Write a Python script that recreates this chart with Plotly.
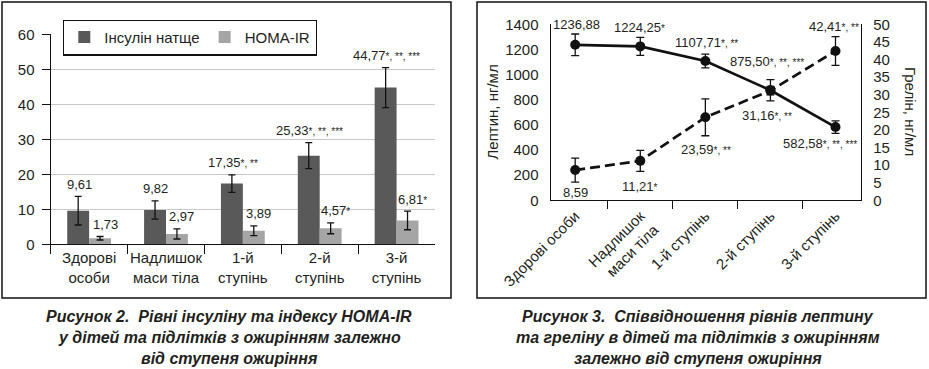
import plotly.graph_objects as go

W, H = 929, 369

# ---------------- data ----------------
left_categories = ["Здорові<br>особи", "Надлишок<br>маси тіла", "1-й<br>ступінь", "2-й<br>ступінь", "3-й<br>ступінь"]
right_categories = ["Здорові особи", "Надлишок<br>маси тіла", "1-й ступінь", "2-й ступінь", "3-й ступінь"]

insulin = [9.61, 9.82, 17.35, 25.33, 44.77]
insulin_err = [4.1, 2.6, 2.5, 3.7, 5.7]
insulin_text = ["9,61", "9,82", "17,35", "25,33", "44,77"]
insulin_marks = ["", "", "*, **", "*, **, ***", "*, **, ***"]

homa = [1.73, 2.97, 3.89, 4.57, 6.81]
homa_err = [0.5, 1.45, 1.4, 1.55, 2.65]
homa_text = ["1,73", "2,97", "3,89", "4,57", "6,81"]
homa_marks = ["", "", "", "*", "*"]

leptin = [1236.88, 1224.25, 1107.71, 875.50, 582.58]
leptin_err = [86, 72, 55, 85, 50]
leptin_text = ["1236,88", "1224,25", "1107,71", "875,50", "582,58"]
leptin_marks = ["", "*", "*, **", "*, **, ***", "*, **, ***"]

ghrelin = [8.59, 11.21, 23.59, 31.16, 42.41]
ghrelin_err = [3.4, 3.0, 5.25, 1.2, 4.1]
ghrelin_text = ["8,59", "11,21", "23,59", "31,16", "42,41"]
ghrelin_marks = ["", "*", "*, **", "*, **", "*, **"]

caption_left = ["Рисунок 2.\u00a0 Рівні інсуліну та індексу HOMA-IR",
                "у дітей та підлітків з ожирінням залежно",
                "від ступеня ожиріння"]
caption_right = ["Рисунок 3.\u00a0 Співвідношення рівнів лептину",
                 "та греліну в дітей та підлітків з ожирінням",
                 "залежно від ступеня ожиріння"]

# ---------------- style ----------------
FONT = "Liberation Sans, Arial, Helvetica, sans-serif"
TXT = "#231f20"
DARK = "#595959"
LIGHT = "#a5a5a5"
GRID = "#c8c8c8"


def px(x):
    return x / W


def py(y):
    return 1 - y / H


def lab(t, m):
    return t + (f"<span style='font-size:10px'>{m}</span>" if m else "")


fig = go.Figure()

# ---- left: bars ----
fig.add_trace(go.Bar(
    x=left_categories, y=insulin, name="Інсулін натще", marker_color=DARK,
    error_y=dict(type="data", array=insulin_err, color="#111", thickness=1.3, width=3.5),
    xaxis="x", yaxis="y"))
fig.add_trace(go.Bar(
    x=left_categories, y=homa, name="HOMA-IR", marker_color=LIGHT,
    error_y=dict(type="data", array=homa_err, color="#111", thickness=1.3, width=3.5),
    xaxis="x", yaxis="y"))

# ---- right: lines ----
fig.add_trace(go.Scatter(
    x=right_categories, y=leptin, mode="lines+markers", showlegend=False,
    line=dict(color="#111", width=2.7), marker=dict(size=10, color="#111"),
    error_y=dict(type="data", array=leptin_err, color="#111", thickness=1.3, width=4),
    xaxis="x2", yaxis="y2"))
fig.add_trace(go.Scatter(
    x=right_categories, y=ghrelin, mode="lines+markers", showlegend=False,
    line=dict(color="#111", width=2.7, dash="10px,5px"), marker=dict(size=10, color="#111"),
    error_y=dict(type="data", array=ghrelin_err, color="#111", thickness=1.3, width=4),
    xaxis="x2", yaxis="y3"))

annotations = []
# left value labels
for c, v, e, t, m in zip(left_categories, insulin, insulin_err, insulin_text, insulin_marks):
    annotations.append(dict(x=c, y=v + e, xref="x", yref="y", text=lab(t, m), showarrow=False,
                            xshift=-10, yshift=12, yanchor="middle",
                            font=dict(size=13, color=TXT, family=FONT)))
for c, v, e, t, m in zip(left_categories, homa, homa_err, homa_text, homa_marks):
    annotations.append(dict(x=c, y=v + e, xref="x", yref="y", text=lab(t, m), showarrow=False,
                            xshift=16, yshift=12, yanchor="middle",
                            font=dict(size=13, color=TXT, family=FONT)))

# right value labels (pixel offsets from each point)
leptin_off = [(1, 20.5), (-1, 19), (1, 18.7), (-3.5, 29), (-16, -16)]
ghrelin_off = [(0, -22), (0, -26), (1, -32.7), (-3.5, -24.4), (-1.5, 25)]
for c, v, t, m, (dx, dy) in zip(right_categories, leptin, leptin_text, leptin_marks, leptin_off):
    annotations.append(dict(x=c, y=v, xref="x2", yref="y2", text=lab(t, m), showarrow=False,
                            xshift=dx, yshift=dy, yanchor="middle",
                            font=dict(size=13, color=TXT, family=FONT)))
for c, v, t, m, (dx, dy) in zip(right_categories, ghrelin, ghrelin_text, ghrelin_marks, ghrelin_off):
    annotations.append(dict(x=c, y=v, xref="x2", yref="y3", text=lab(t, m), showarrow=False,
                            xshift=dx, yshift=dy, yanchor="middle",
                            font=dict(size=13, color=TXT, family=FONT)))

# axis titles (right chart)
annotations.append(dict(x=px(492), y=py(112.5), xref="paper", yref="paper", text="Лептин, нг/мл",
                        textangle=-90, showarrow=False, xanchor="center", yanchor="middle",
                        font=dict(size=15, color=TXT, family=FONT)))
annotations.append(dict(x=px(910), y=py(111), xref="paper", yref="paper", text="Грелін, нг/мл",
                        textangle=90, showarrow=False, xanchor="center", yanchor="middle",
                        font=dict(size=15, color=TXT, family=FONT)))

# captions
for i, line in enumerate(caption_left):
    annotations.append(dict(x=px(229), y=py(316.5 + 21 * i), xref="paper", yref="paper",
                            text=f"<b><i>{line}</i></b>", showarrow=False,
                            xanchor="center", yanchor="middle",
                            font=dict(size=16, color=TXT, family=FONT)))
for i, line in enumerate(caption_right):
    annotations.append(dict(x=px(698), y=py(316.5 + 21 * i), xref="paper", yref="paper",
                            text=f"<b><i>{line}</i></b>", showarrow=False,
                            xanchor="center", yanchor="middle",
                            font=dict(size=16, color=TXT, family=FONT)))

shapes = [
    dict(type="rect", xref="paper", yref="paper", x0=px(2), x1=px(451), y0=py(298), y1=py(2),
         line=dict(color="#111", width=1.5), layer="below"),
    dict(type="rect", xref="paper", yref="paper", x0=px(477), x1=px(926), y0=py(298), y1=py(2),
         line=dict(color="#111", width=1.5), layer="below"),
]

tickfont = dict(size=15, color=TXT, family=FONT)

fig.update_layout(
    template="none",
    width=W, height=H, margin=dict(l=0, r=0, t=0, b=0, pad=0),
    paper_bgcolor="white", plot_bgcolor="rgba(0,0,0,0)",
    font=dict(family=FONT, color=TXT),
    barmode="group", bargap=0.43, bargroupgap=0,
    showlegend=True,
    legend=dict(orientation="h", x=px(63), y=py(19.5), xanchor="left", yanchor="top",
                bordercolor="#111", borderwidth=1.3, bgcolor="white",
                font=dict(size=15, color=TXT, family=FONT)),
    xaxis=dict(domain=[px(50.7), px(435)], anchor="y", type="category", automargin=False,
               showline=True, linecolor="#111", linewidth=1.3, tickangle=0,
               ticks="outside", tickson="boundaries", ticklen=9, tickcolor="#111", tickwidth=1.3,
               tickfont=tickfont, showgrid=False),
    yaxis=dict(domain=[py(244.3), py(34.3)], anchor="x", range=[0, 60], dtick=10, automargin=False,
               showline=True, linecolor="#111", linewidth=1.3,
               ticks="outside", ticklen=8, tickcolor="#111", tickwidth=1.3,
               showgrid=True, gridcolor=GRID, gridwidth=1, zeroline=False,
               tickfont=tickfont, ticklabelstandoff=4),
    xaxis2=dict(domain=[px(550.7), px(861)], anchor="y2", type="category", automargin=False,
                showline=True, linecolor="#111", linewidth=1.3,
                ticks="outside", tickson="boundaries", ticklen=8, tickcolor="#111", tickwidth=1.3,
                tickangle=-45, tickfont=tickfont, showgrid=False),
    yaxis2=dict(domain=[py(200.3), py(24.3)], anchor="x2", range=[0, 1400], dtick=200, automargin=False,
                showline=True, linecolor="#111", linewidth=1.3, ticks="",
                showgrid=False, zeroline=False, tickfont=tickfont, ticklabelstandoff=8),
    yaxis4=dict(domain=[py(200.3), py(24.3)], anchor="x2", overlaying="y2", range=[0, 1400],
                automargin=False,
                tickvals=[200, 400, 600, 800, 1000, 1200], showticklabels=False, ticks="",
                showgrid=True, gridcolor=GRID, gridwidth=1, zeroline=False, showline=False),
    yaxis3=dict(anchor="x2", overlaying="y2", side="right", range=[0, 50], dtick=5, automargin=False,
                showline=True, linecolor="#111", linewidth=1.3, ticks="",
                showgrid=False, zeroline=False, tickfont=tickfont, ticklabelstandoff=8),
    annotations=annotations, shapes=shapes,
)

fig.write_html("out.html", config={"displayModeBar": False},
               post_script="document.body.style.margin='0px';document.body.style.overflow='hidden';")
